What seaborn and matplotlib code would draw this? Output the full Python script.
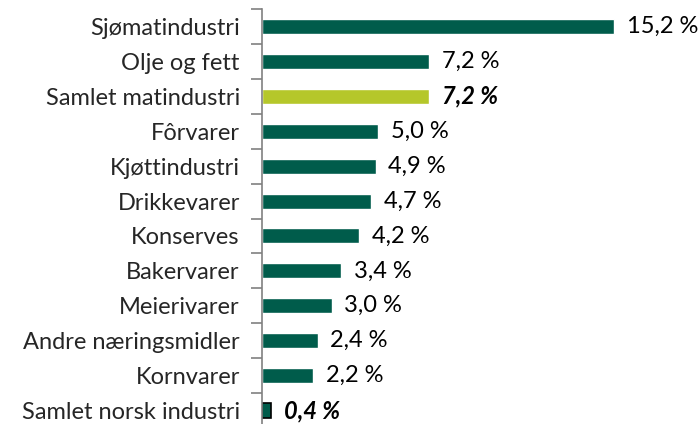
"""Omsetningsvekst per bransje, horisontalt stolpediagram."""

import matplotlib
matplotlib.use("Agg")
import matplotlib.pyplot as plt
import numpy as np
import pandas as pd
import seaborn as sns

categories = [
    "Sjømatindustri",
    "Olje og fett",
    "Samlet matindustri",
    "Fôrvarer",
    "Kjøttindustri",
    "Drikkevarer",
    "Konserves",
    "Bakervarer",
    "Meierivarer",
    "Andre næringsmidler",
    "Kornvarer",
    "Samlet norsk industri",
]
values = [15.2, 7.2, 7.2, 5.0, 4.9, 4.7, 4.2, 3.4, 3.0, 2.4, 2.2, 0.4]
highlight = ["Samlet matindustri", "Samlet norsk industri"]

DARK = "#005C4B"
LIME = "#B5C72A"

df = pd.DataFrame({"kategori": categories, "verdi": values})
df["gruppe"] = np.where(df["kategori"] == "Samlet matindustri", "lime", "dark")

sns.set_style("white")
plt.rcParams["font.family"] = ["Lato", "DejaVu Sans"]

fig = plt.figure(figsize=(6.99, 4.24), dpi=100)
ax = fig.add_axes([262 / 699, -4 / 424, 417 / 699, 419 / 424])

sns.barplot(
    data=df, x="verdi", y="kategori", hue="gruppe",
    palette={"dark": DARK, "lime": LIME}, dodge=False, saturation=1,
    width=0.43, legend=False, ax=ax, orient="h",
)

# siste stolpe har svart kant
for patch in ax.patches:
    if abs(patch.get_y() + patch.get_height() / 2 - (len(categories) - 1)) < 0.01:
        patch.set_edgecolor("black")
        patch.set_linewidth(1.2)

ax.set_xlim(0, 18)
ax.set_ylim(len(categories) - 0.5, -0.5)

for i, (cat, val) in enumerate(zip(categories, values)):
    label = f"{val:.1f} %".replace(".", ",")
    bold = cat in highlight
    ax.text(
        val + 0.55, i, label, va="center", ha="left", fontsize=17,
        fontweight="bold" if bold else "normal",
        fontstyle="italic" if bold else "normal", color="black",
    )

ax.set_xlabel("")
ax.set_ylabel("")
ax.set_yticks(np.arange(len(categories)))
ax.set_yticklabels(categories, fontsize=17)
ax.tick_params(axis="y", which="major", length=0, pad=16)
ax.set_yticks(np.arange(len(categories) + 1) - 0.5, minor=True)
ax.tick_params(axis="y", which="minor", left=True, length=8,
               color="#808080", width=1.2)
ax.set_xticks([])

for side in ["top", "right", "bottom"]:
    ax.spines[side].set_visible(False)
ax.spines["left"].set_color("#808080")
ax.spines["left"].set_linewidth(1.2)

fig.savefig("out.png", dpi=100)
